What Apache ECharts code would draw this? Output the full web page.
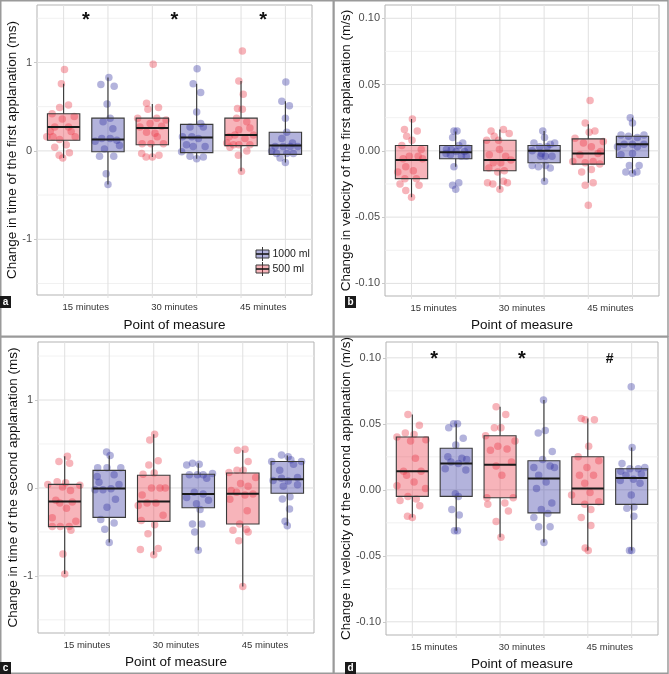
<!DOCTYPE html>
<html><head><meta charset="utf-8">
<script src="https://cdn.jsdelivr.net/npm/echarts@6/dist/echarts.min.js"></script>
<style>html,body{margin:0;padding:0;background:#fff}#c{width:669px;height:674px}</style>
</head><body><div id="c"></div><script>
// ---------- data ----------
const timeLabels = ['15 minutes', '30 minutes', '45 minutes'];
const labelPos = [1.5, 3.5, 5.5];
const redPos = [1, 3, 5];   // 500 ml
const bluePos = [2, 4, 6];  // 1000 ml
const seriesNames = ['1000 ml', '500 ml'];

// points: [jitter offset, value] per time point
const A_red = [
 [[0.02,0.92],[-0.05,0.76],[0.11,0.52],[-0.09,0.49],[-0.26,0.42],[0.24,0.39],[-0.03,0.36],[-0.2,0.27],[0.11,0.27],[-0.38,0.16],[-0.24,0.16],[0.17,0.22],[-0.09,0.13],[0.06,0.07],[-0.2,0.04],[-0.1,-0.05],[0.13,-0.02],[-0.02,-0.08],[0.26,0.16],[-0.3,0.22]],
 [[0.02,0.98],[-0.13,0.54],[0.14,0.49],[-0.1,0.47],[-0.33,0.37],[0.31,0.35],[0.1,0.37],[-0.28,0.27],[-0.05,0.31],[0.21,0.28],[-0.13,0.21],[0.06,0.2],[-0.23,0.08],[-0.03,0.08],[0.25,0.08],[-0.24,-0.03],[-0.14,-0.07],[0,-0.07],[0.15,-0.05],[0.11,0.16]],
 [[0.03,1.13],[-0.05,0.79],[0.05,0.64],[-0.08,0.48],[0.03,0.47],[-0.1,0.37],[0.13,0.33],[-0.05,0.24],[0.2,0.26],[-0.27,0.16],[-0.14,0.18],[0.28,0.18],[0.09,0.14],[-0.32,0.09],[-0.17,0.07],[0.2,0.07],[-0.25,0.04],[-0.05,0.07],[-0.06,-0.05],[0.13,0.0],[0.01,-0.23]]
];
const A_blue = [
 [[0.02,0.83],[-0.16,0.75],[0.14,0.73],[-0.02,0.53],[0.05,0.37],[-0.11,0.33],[0.11,0.25],[-0.29,0.11],[-0.14,0.14],[0.05,0.14],[0.26,0.06],[-0.08,0.02],[-0.19,-0.06],[0.13,-0.06],[-0.04,-0.26],[0,-0.38],[0.2,0.12]],
 [[0.01,0.93],[-0.08,0.76],[0.09,0.66],[0,0.44],[0.09,0.31],[-0.15,0.27],[0.15,0.27],[-0.32,0.16],[-0.11,0.16],[0.04,0.14],[-0.23,0.07],[-0.08,0.05],[0.19,0.05],[-0.15,-0.06],[0.15,-0.07],[0,-0.09],[-0.34,-0.01]],
 [[0.01,0.78],[-0.08,0.56],[0.09,0.51],[0,0.37],[0.03,0.21],[-0.08,0.14],[0.16,0.09],[-0.23,0.05],[-0.05,0.05],[0.11,0.05],[0.28,0.05],[-0.2,-0.03],[0.03,-0.03],[0.18,-0.03],[-0.12,-0.08],[0,-0.13],[-0.31,0.0]]
];
const B_red = [
 [[0.02,0.024],[-0.16,0.016],[0.13,0.015],[-0.11,0.011],[0.01,0.008],[-0.22,0.004],[-0.05,-0.004],[0.15,-0.004],[0.22,0.001],[-0.13,-0.012],[0.25,-0.006],[-0.31,-0.016],[0.04,-0.015],[-0.15,-0.021],[0.11,-0.021],[-0.26,-0.025],[0.17,-0.026],[-0.13,-0.03],[0,-0.035],[-0.19,-0.006]],
 [[-0.2,0.015],[0.08,0.016],[0.21,0.013],[-0.13,0.011],[-0.03,0.008],[-0.3,0.008],[-0.01,0.001],[-0.24,-0.003],[0.13,-0.004],[0.25,-0.007],[-0.15,-0.009],[0.02,-0.009],[-0.25,-0.013],[-0.05,-0.016],[0.1,-0.015],[-0.28,-0.024],[-0.16,-0.025],[0.08,-0.023],[0.17,-0.024],[0,-0.029]],
 [[0.04,0.038],[-0.07,0.021],[0.15,0.015],[0.02,0.014],[-0.3,0.0095],[-0.11,0.006],[0.34,0.007],[0.07,0.003],[0.22,-0.002],[-0.19,-0.003],[-0.35,-0.008],[-0.07,-0.009],[0.11,-0.008],[0.26,-0.01],[-0.15,-0.016],[0.07,-0.014],[0.11,-0.024],[-0.07,-0.026],[0,-0.041],[0.28,-0.0005]]
];
const B_blue = [
 [[-0.04,0.015],[0.03,0.015],[-0.07,0.010],[0.16,0.006],[-0.21,0.001],[-0.1,0.001],[0.01,-0.0005],[0.07,0.004],[0.2,-0.0005],[0.28,0.002],[-0.12,-0.003],[0.13,-0.004],[0.24,-0.004],[-0.04,-0.012],[0.07,-0.024],[-0.07,-0.026],[0,-0.029],[-0.22,-0.002]],
 [[-0.03,0.015],[0.01,0.010],[-0.23,0.006],[0.24,0.006],[-0.1,0.003],[0.07,0.003],[0.14,0.005],[-0.27,0],[-0.06,-0.002],[0.18,-0.004],[0.03,-0.004],[-0.13,-0.012],[0.03,-0.011],[-0.27,-0.011],[0.14,-0.013],[0.01,-0.023],[-0.08,-0.004]],
 [[-0.05,0.025],[0,0.021],[-0.26,0.012],[0.26,0.012],[-0.09,0.011],[0.11,0.010],[-0.19,0.005],[0,0.005],[0.26,0.005],[-0.34,0.003],[0.11,0.003],[0,-0.002],[-0.26,-0.003],[-0.07,-0.011],[0.15,-0.011],[-0.15,-0.016],[0.1,-0.016],[0,-0.017]]
];
const C_red = [
 [[0.06,0.36],[-0.13,0.30],[0.11,0.28],[-0.38,0.04],[-0.17,0.07],[0.02,0.06],[0.34,0.03],[-0.05,0.01],[0.13,-0.03],[-0.2,-0.14],[-0.11,-0.17],[0.17,-0.16],[0.04,-0.23],[-0.28,-0.34],[0.25,-0.38],[-0.28,-0.44],[-0.1,-0.44],[0.1,-0.44],[0.14,-0.48],[-0.04,-0.75],[0,-0.98]],
 [[0.02,0.61],[-0.09,0.545],[0.1,0.31],[-0.11,0.26],[-0.24,0.155],[0.01,0.17],[-0.26,-0.08],[-0.05,0],[0.14,0],[0.26,0.0],[-0.35,-0.2],[-0.15,-0.17],[0.05,-0.17],[0.21,-0.31],[-0.28,-0.37],[0.02,-0.42],[-0.13,-0.52],[-0.3,-0.70],[0.1,-0.69],[0,-0.76]],
 [[-0.12,0.43],[0.05,0.44],[0.12,0.30],[-0.31,0.175],[-0.13,0.20],[0.01,0.20],[-0.05,0.05],[0.12,0.02],[0.29,0.12],[-0.26,-0.03],[-0.14,-0.05],[0.05,-0.08],[0.23,-0.07],[-0.29,-0.13],[0.1,-0.26],[-0.07,-0.41],[-0.22,-0.48],[0.08,-0.47],[0.12,-0.5],[-0.09,-0.6],[0,-1.12]]
];
const C_blue = [
 [[-0.06,0.41],[0.02,0.37],[-0.26,0.23],[-0.05,0.23],[0.26,0.23],[0.11,0.15],[-0.23,0.065],[-0.32,-0.02],[-0.14,-0.02],[0.04,-0.01],[0.22,0.04],[0.14,-0.13],[-0.05,-0.22],[-0.19,-0.36],[0.11,-0.40],[-0.1,-0.47],[0,-0.62],[-0.27,0.13]],
 [[-0.26,0.26],[-0.13,0.28],[0.02,0.27],[-0.2,0.15],[-0.02,0.15],[0.19,0.11],[0.32,0.165],[0.11,0.15],[-0.09,-0.05],[-0.26,-0.11],[0.11,-0.07],[-0.04,-0.18],[0.23,-0.14],[0.04,-0.245],[-0.13,-0.41],[0.08,-0.41],[-0.08,-0.5],[0,-0.71]],
 [[-0.13,0.375],[0.02,0.355],[-0.35,0.30],[0.14,0.27],[0.32,0.30],[-0.17,0.2],[-0.32,0.085],[-0.13,0.11],[0.02,0.08],[0.23,0.12],[-0.09,0.02],[0.23,0.035],[-0.11,-0.125],[0.06,-0.10],[0.05,-0.24],[-0.05,-0.38],[0,-0.43],[0.08,0.32]]
];
const D_red = [
 [[-0.1,0.057],[-0.16,0.043],[0.16,0.049],[-0.35,0.040],[0.04,0.042],[-0.04,0.037],[0.31,0.038],[0.07,0.024],[-0.2,0.014],[0.2,0.014],[-0.13,0.011],[0.04,0.006],[-0.35,0.003],[0.3,0.001],[-0.1,-0.005],[0.09,-0.007],[-0.28,-0.008],[0.17,-0.012],[-0.11,-0.020],[0,-0.021]],
 [[-0.09,0.063],[0.13,0.057],[-0.13,0.047],[0.02,0.047],[-0.33,0.041],[-0.05,0.033],[0.16,0.031],[0.34,0.037],[-0.22,0.030],[-0.09,0.018],[0.04,0.011],[0.26,0.021],[-0.3,-0.006],[0.3,-0.006],[0.11,-0.010],[-0.28,-0.011],[0.19,-0.016],[-0.09,-0.024],[0.02,-0.036]],
 [[-0.15,0.054],[-0.06,0.053],[0.15,0.053],[0.02,0.033],[-0.22,0.025],[0.25,0.022],[-0.02,0.017],[-0.19,0.011],[0.13,0.011],[-0.07,0.005],[-0.37,-0.004],[0.05,-0.002],[0.25,-0.009],[-0.07,-0.011],[0.07,-0.015],[-0.15,-0.021],[0.07,-0.027],[-0.06,-0.044],[0.01,-0.046]]
];
const D_blue = [
 [[-0.06,0.050],[0.03,0.050],[-0.17,0.047],[0.16,0.039],[-0.01,0.034],[-0.19,0.025],[0.13,0.024],[0.24,0.023],[-0.25,0.016],[-0.12,0.021],[0.05,0.020],[0.22,0.015],[-0.02,-0.003],[0.05,-0.005],[-0.1,-0.015],[0.07,-0.019],[-0.04,-0.031],[0.03,-0.031]],
 [[-0.01,0.068],[-0.13,0.043],[0.03,0.045],[-0.03,0.023],[0.19,0.029],[-0.23,0.017],[0.14,0.018],[0.24,0.017],[-0.12,0.011],[0.05,0.006],[-0.17,0.001],[0.18,-0.010],[-0.06,-0.015],[0.09,-0.018],[-0.23,-0.021],[-0.12,-0.028],[0.14,-0.028],[0,-0.040]],
 [[-0.01,0.078],[0.01,0.032],[-0.22,0.020],[-0.04,0.016],[0.15,0.016],[0.3,0.017],[-0.25,0.014],[-0.13,0.011],[0.04,0.008],[0.22,0.012],[0.19,0.005],[-0.26,0.007],[-0.01,-0.004],[-0.11,-0.014],[0.05,-0.013],[0.05,-0.020],[0,-0.046],[-0.05,-0.046]]
];

// box stats: [lower whisker, Q1, median, Q3, upper whisker]
const A_redBox  = [[-0.08,0.12,0.27,0.42,0.76],[-0.07,0.07,0.26,0.37,0.53],[-0.23,0.06,0.18,0.37,0.79]];
const A_blueBox = [[-0.38,-0.01,0.13,0.37,0.83],[-0.09,-0.02,0.15,0.30,0.76],[-0.13,-0.04,0.06,0.21,0.56]];
const B_redBox  = [[-0.035,-0.021,-0.007,0.004,0.024],[-0.029,-0.015,-0.007,0.008,0.016],[-0.024,-0.010,-0.002,0.009,0.020]];
const B_blueBox = [[-0.012,-0.006,-0.001,0.004,0.0145],[-0.023,-0.009,0.0,0.004,0.015],[-0.017,-0.005,0.005,0.011,0.025]];
const C_redBox  = [[-0.98,-0.44,-0.155,0.04,0.36],[-0.76,-0.38,-0.155,0.145,0.61],[-1.12,-0.41,-0.065,0.17,0.43]];
const C_blueBox = [[-0.62,-0.335,-0.005,0.20,0.37],[-0.71,-0.225,-0.07,0.155,0.28],[-0.43,-0.06,0.10,0.30,0.37]];
const D_redBox  = [[-0.021,-0.005,0.014,0.040,0.057],[-0.036,-0.006,0.019,0.041,0.063],[-0.046,-0.011,0.001,0.025,0.054]];
const D_blueBox = [[-0.031,-0.005,0.020,0.0315,0.050],[-0.040,-0.0175,0.0085,0.022,0.068],[-0.046,-0.011,0.009,0.016,0.032]];

// axis ticks
const timeTicks = [-1, 0, 1];
const timeMinor = [-1.5, -0.5, 0.5, 1.5];
const velTicks = [-0.1, -0.05, 0, 0.05, 0.1];
const velMinor = [-0.075, -0.025, 0.025, 0.075];

// significance marks
const A_marks = ['*', '*', '*'];
const D_marks = ['*', '*', '#'];

// ---------- style ----------
const FONT = '"Liberation Sans", Arial, Helvetica, sans-serif';
const RED_PT = 'rgba(232,48,63,0.45)';
const BLUE_PT = 'rgba(43,43,158,0.45)';
const RED_FILL = 'rgba(232,48,63,0.36)';
const BLUE_FILL = 'rgba(43,43,158,0.36)';
const BOX_W = 0.73;
const X_MIN = 0.4, X_MAX = 6.6;

const panels = [
  {id:'a', grid:{left:37, top:5, width:275, height:290}, yMin:-1.63, yMax:1.65, ticks:timeTicks, minor:timeMinor, fmt:v=>String(v),
   title:'Change in time of the first applanation (ms)', red:A_red, blue:A_blue, redBox:A_redBox, blueBox:A_blueBox, marks:A_marks, markY:1.48,
   tag:[0,296], ytx:12.5, xty:325},
  {id:'b', grid:{left:385, top:5, width:274, height:291}, yMin:-0.1095, yMax:0.110, ticks:velTicks, minor:velMinor, fmt:v=>v.toFixed(2),
   title:'Change in velocity of the first applanation (m/s)', red:B_red, blue:B_blue, redBox:B_redBox, blueBox:B_blueBox, marks:null,
   tag:[345,296], ytx:346.5, xty:325},
  {id:'c', grid:{left:38, top:342, width:276, height:291}, yMin:-1.65, yMax:1.66, ticks:timeTicks, minor:timeMinor, fmt:v=>String(v),
   title:'Change in time of the second applanation (ms)', red:C_red, blue:C_blue, redBox:C_redBox, blueBox:C_blueBox, marks:null,
   tag:[0,662], ytx:13, xty:662},
  {id:'d', grid:{left:386, top:342, width:272, height:293}, yMin:-0.110, yMax:0.112, ticks:velTicks, minor:velMinor, fmt:v=>v.toFixed(2),
   title:'Change in velocity of the second applanation (m/s)', red:D_red, blue:D_blue, redBox:D_redBox, blueBox:D_blueBox, marks:D_marks, markY:0.099,
   tag:[345,662], ytx:346.5, xty:664}
];

const grids = [], xAxes = [], yAxes = [], series = [], graphics = [];

function makeHLine(p) {
  return function(params, api) {
    const v = api.value(1);
    const a = api.coord([X_MIN, v]), b = api.coord([X_MAX, v]);
    const major = api.value(2) === 1;
    return {type:'line', shape:{x1:a[0], y1:a[1], x2:b[0], y2:b[1]},
      style:{stroke: major ? '#E0E0E0' : '#EEEEEE', lineWidth: major ? 1 : 0.8}};
  };
}
function makeVLine(p) {
  return function(params, api) {
    const v = api.value(0);
    const a = api.coord([v, p.yMin]), b = api.coord([v, p.yMax]);
    return {type:'line', shape:{x1:a[0], y1:a[1] + 3, x2:b[0], y2:b[1]},
      style:{stroke:'#E0E0E0', lineWidth:1}};
  };
}
function makeBoxRender(fill) {
  return function(params, api) {
    const x = api.value(0), lw = api.value(1), q1 = api.value(2), md = api.value(3), q3 = api.value(4), uw = api.value(5);
    const h = BOX_W / 2;
    const tl = api.coord([x - h, q3]), br = api.coord([x + h, q1]);
    const pu = api.coord([x, uw]), p3 = api.coord([x, q3]), p1 = api.coord([x, q1]), pl = api.coord([x, lw]);
    const m1 = api.coord([x - h, md]), m2 = api.coord([x + h, md]);
    return {type:'group', children:[
      {type:'line', shape:{x1:pu[0], y1:pu[1], x2:p3[0], y2:p3[1]}, style:{stroke:'#333', lineWidth:1.1}},
      {type:'line', shape:{x1:p1[0], y1:p1[1], x2:pl[0], y2:pl[1]}, style:{stroke:'#333', lineWidth:1.1}},
      {type:'rect', shape:{x:tl[0], y:tl[1], width:br[0]-tl[0], height:br[1]-tl[1]}, style:{fill:fill, stroke:'#3a3a3a', lineWidth:1.1}},
      {type:'line', shape:{x1:m1[0], y1:m1[1], x2:m2[0], y2:m2[1]}, style:{stroke:'#1a1a1a', lineWidth:2}}
    ]};
  };
}
function markRender(params, api) {
  const p = api.coord([api.value(0), api.value(1)]);
  const t = api.value(2);
  return {type:'text', x:p[0], y:p[1], style:{text:t, fill:'#111', font:'bold ' + (t === '#' ? 14 : 20) + 'px ' + FONT, align:'center', verticalAlign:'middle'}};
}

panels.forEach((p, i) => {
  grids.push(Object.assign({show:true, borderColor:'#B3B3B3', borderWidth:1, backgroundColor:'transparent'}, p.grid));
  xAxes.push({type:'value', gridIndex:i, min:X_MIN, max:X_MAX,
    axisLine:{show:false}, splitLine:{show:false},
    axisTick:{show:false},
    axisLabel:{customValues:labelPos, margin:7, color:'#333', fontSize:9.5, fontFamily:FONT,
      formatter:v => timeLabels[labelPos.indexOf(v)] || ''}});
  yAxes.push({type:'value', gridIndex:i, min:p.yMin, max:p.yMax,
    axisLine:{show:false}, splitLine:{show:false},
    axisTick:{show:true, length:3, lineStyle:{color:'#C8C8C8'}, customValues:p.ticks},
    axisLabel:{customValues:p.ticks, margin:5, color:'#4D4D4D', fontSize:11, fontFamily:FONT, formatter:p.fmt}});

  const hData = p.ticks.map(v => [1, v, 1]).concat(p.minor.map(v => [1, v, 0]));
  series.push({type:'custom', xAxisIndex:i, yAxisIndex:i, silent:true, z:2, clip:false, renderItem:makeHLine(p), data:hData});
  series.push({type:'custom', xAxisIndex:i, yAxisIndex:i, silent:true, z:2, clip:false, renderItem:makeVLine(p),
    data:redPos.concat(bluePos).map(v => [v, 0])});

  const redPts = [], bluePts = [];
  p.red.forEach((g, k) => g.forEach(d => redPts.push([redPos[k] + d[0], d[1]])));
  p.blue.forEach((g, k) => g.forEach(d => bluePts.push([bluePos[k] + d[0], d[1]])));
  series.push({name:'500 ml', type:'scatter', xAxisIndex:i, yAxisIndex:i, z:3, symbolSize:7.5,
    itemStyle:{color:RED_PT}, data:redPts, silent:true});
  series.push({name:'1000 ml', type:'scatter', xAxisIndex:i, yAxisIndex:i, z:3, symbolSize:7.5,
    itemStyle:{color:BLUE_PT}, data:bluePts, silent:true});

  series.push({type:'custom', xAxisIndex:i, yAxisIndex:i, z:4, silent:true, renderItem:makeBoxRender(RED_FILL),
    data:p.redBox.map((b, k) => [redPos[k]].concat(b))});
  series.push({type:'custom', xAxisIndex:i, yAxisIndex:i, z:4, silent:true, renderItem:makeBoxRender(BLUE_FILL),
    data:p.blueBox.map((b, k) => [bluePos[k]].concat(b))});

  if (p.marks) {
    series.push({type:'custom', xAxisIndex:i, yAxisIndex:i, z:5, silent:true, renderItem:markRender,
      dimensions:['x','y',{name:'t', type:'ordinal'}],
      data:p.marks.map((m, k) => [labelPos[k], p.markY, m])});
  }

  const g = p.grid;
  graphics.push({type:'text', x:p.ytx, y:g.top + g.height/2, rotation:Math.PI/2,
    style:{text:p.title, font:'13.5px ' + FONT, fill:'#111', align:'center', verticalAlign:'middle'}});
  graphics.push({type:'text', x:g.left + g.width/2, y:p.xty,
    style:{text:'Point of measure', font:'13.5px ' + FONT, fill:'#111', align:'center', verticalAlign:'middle'}});
  graphics.push({type:'rect', shape:{x:p.tag[0], y:p.tag[1], width:11, height:12}, style:{fill:'#1a1a1a'}, z:10});
  graphics.push({type:'text', x:p.tag[0] + 5.5, y:p.tag[1] + 6.5, z:11,
    style:{text:p.id, font:'bold 10px ' + FONT, fill:'#fff', align:'center', verticalAlign:'middle'}});
});

[[0.75,0.75,332.5,335.5],[334,0.75,334,335.5],[0.75,337,332.5,336.25],[334,337,334,336.25]].forEach(r => {
  graphics.push({type:'rect', shape:{x:r[0], y:r[1], width:r[2], height:r[3]}, style:{fill:'none', stroke:'#9a9a9a', lineWidth:1.5}, z:9});
});

function legendKey(cx, cy, fill, label) {
  graphics.push({type:'line', shape:{x1:cx, y1:cy-7, x2:cx, y2:cy+7}, style:{stroke:'#333', lineWidth:1}, z:20});
  graphics.push({type:'rect', shape:{x:cx-6.5, y:cy-4, width:13, height:8}, style:{fill:fill, stroke:'#3a3a3a', lineWidth:1}, z:21});
  graphics.push({type:'line', shape:{x1:cx-6.5, y1:cy, x2:cx+6.5, y2:cy}, style:{stroke:'#1a1a1a', lineWidth:1.6}, z:22});
  graphics.push({type:'text', x:cx+10, y:cy, z:22, style:{text:label, font:'10.5px ' + FONT, fill:'#1a1a1a', align:'left', verticalAlign:'middle'}});
}
legendKey(262.5, 254, BLUE_FILL, seriesNames[0]);
legendKey(262.5, 269, RED_FILL, seriesNames[1]);

const chart = echarts.init(document.getElementById('c'), null, {renderer:'canvas'});
chart.setOption({animation:false, backgroundColor:'#fff', grid:grids, xAxis:xAxes, yAxis:yAxes, series:series, graphic:graphics});
</script></body></html>
